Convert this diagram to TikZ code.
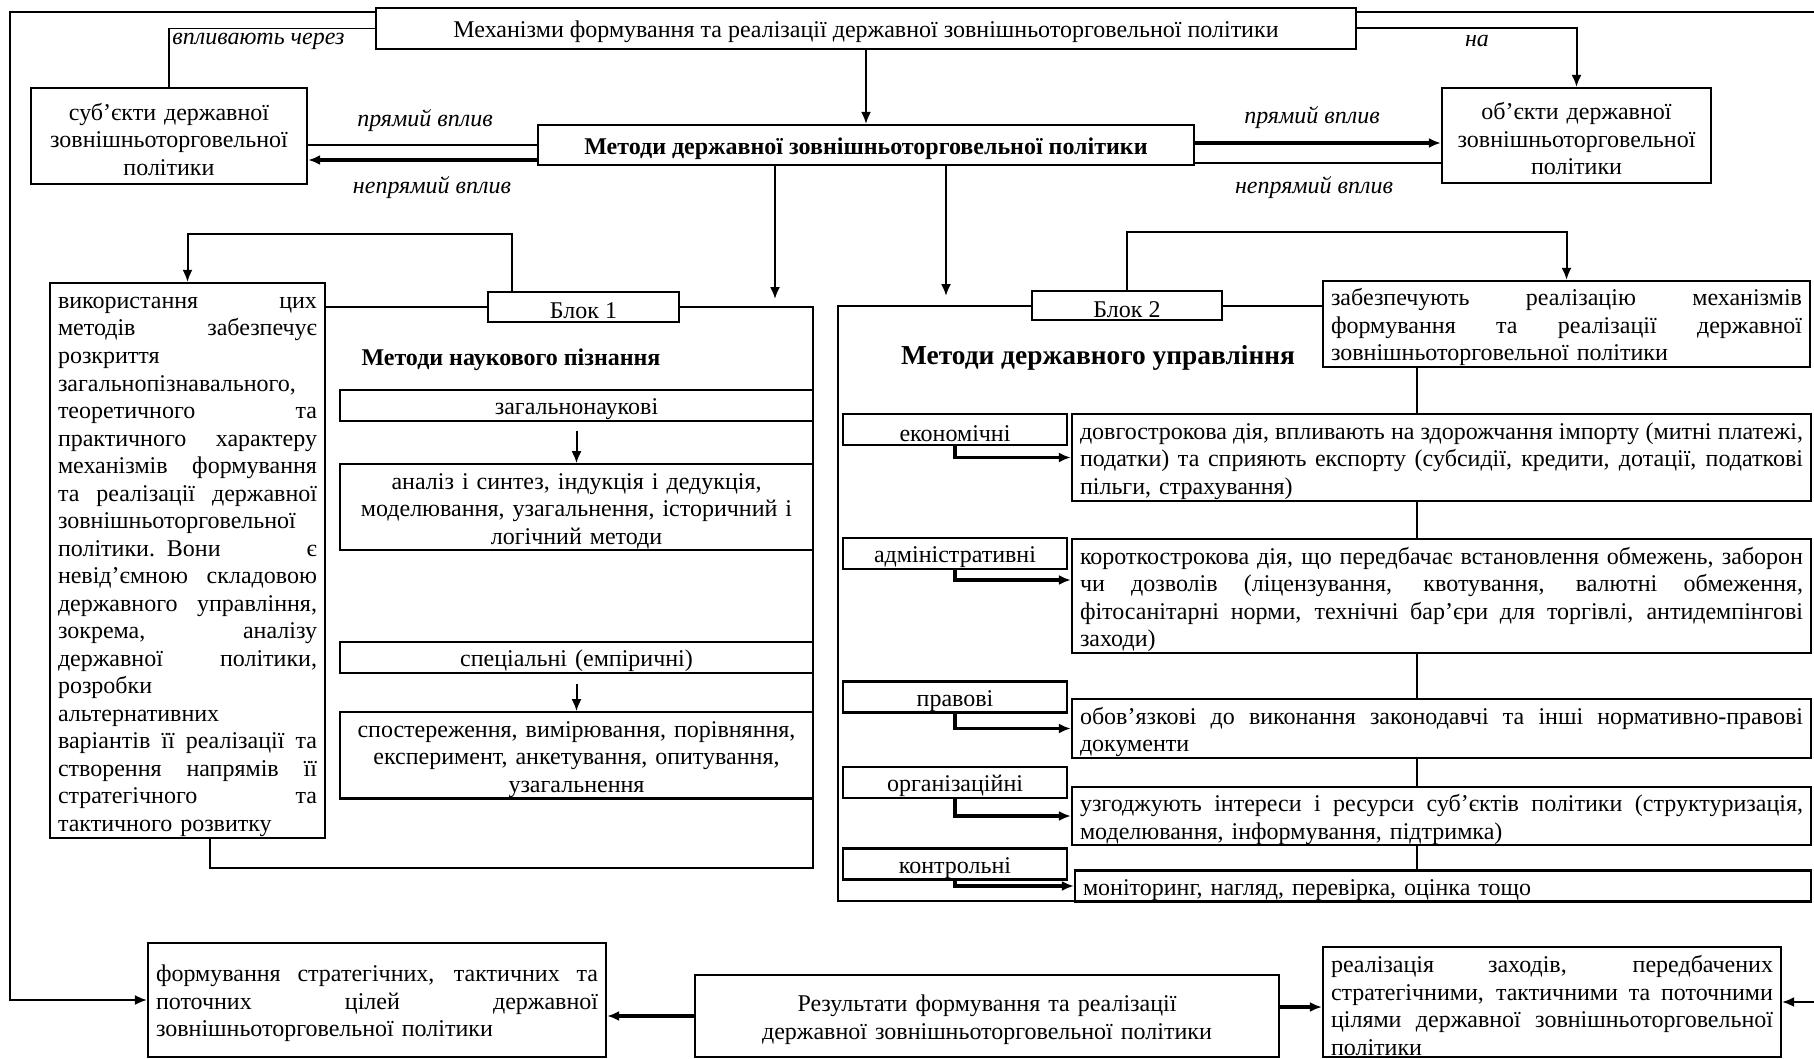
\documentclass[tikz,border=0pt]{standalone}
\usepackage{fontspec}
\setmainfont{Liberation Serif}
\usetikzlibrary{arrows.meta, positioning, calc}
\newcommand{\fsz}[2]{\fontsize{#1}{#2}\selectfont}
\newcommand{\jl}[1]{\leavevmode\hbox to \linewidth{\spaceskip=0.25em plus 1fil minus 0.08em\relax #1}\\}

\begin{document}
\begin{tikzpicture}[x=0.5pt, y=-0.5pt]
    \tikzset{
        box/.style={draw, line width=1.1pt, fill=white, inner xsep=3pt, inner ysep=0.5pt, text height=12pt, align=center, font=\fsz{12}{13.76}},
        jbox/.style={box, align=left, inner xsep=4pt},
        lbl/.style={inner sep=0pt, font=\fsz{12}{13.8}\itshape},
        head/.style={inner sep=0pt, font=\fsz{12}{14}\bfseries},
        ln/.style={line width=1pt},
        thinln/.style={line width=0.7pt},
        arr/.style={line width=1pt, -{Latex[length=6pt, width=5pt]}},
        tarr/.style={line width=1.7pt, -{Latex[length=6pt, width=5pt]}}
    }
    \useasboundingbox (0,0) rectangle (1814,1059);

    % Top level
    \node[box, minimum width=490pt, minimum height=20.5pt] (mech) at (866,28.5) {Механізми формування та реалізації державної зовнішньоторговельної політики};
    \node[box, text width=132pt, minimum height=48pt] (subj) at (169,136) {суб’єкти державної\\зовнішньоторговельної\\політики};
    \node[box, text width=128.5pt, minimum height=47.5pt] (obj) at (1576.5,135.5) {об’єкти державної\\зовнішньоторговельної\\політики};
    \node[box, minimum width=328pt, minimum height=20pt, font=\fsz{12}{13.8}\bfseries] (meth) at (866,145) {Методи державної зовнішньоторговельної політики};

    % Labels
    \node[lbl, anchor=west] (infl) at (172,41) {впливають через};
    \node[lbl] (onto) at (1477,41) {на};
    \node[lbl] (dirL) at (425,121) {прямий вплив};
    \node[lbl] (indL) at (432,188) {непрямий вплив};
    \node[lbl] (dirR) at (1312,118) {прямий вплив};
    \node[lbl] (indR) at (1314,188) {непрямий вплив};

    % Block 1
    \node[jbox, text width=129.5pt, minimum height=277.5pt] (usage) at (187.5,560.5) {\jl{використання цих}\jl{методів забезпечує}розкриття\\загальнопізнавального,\\\jl{теоретичного та}\jl{практичного характеру}\jl{механізмів формування}\jl{та реалізації державної}зовнішньоторговельної\\\jl{політики. Вони є}\jl{невід’ємною складовою}\jl{державного управління,}\jl{зокрема, аналізу}\jl{державної політики,}розробки\\альтернативних\\\jl{варіантів її реалізації та}\jl{створення напрямів її}\jl{стратегічного та}тактичного розвитку};
    \node[box, minimum width=95.5pt, minimum height=15pt] (blok1) at (583.5,307) {Блок 1};
    \node[head] (title1) at (511,360) {Методи наукового пізнання};
    \node[box, text width=230.5pt, minimum height=14.5pt] (gen) at (576.5,405.5) {загальнонаукові};
    \node[box, text width=230.5pt, minimum height=42pt, below=20.5pt of gen] (anal) {аналіз і синтез, індукція і дедукція,\\моделювання, узагальнення, історичний і\\логічний методи};
    \node[box, text width=230.5pt, minimum height=14.5pt] (spec) at (576.5,657.5) {спеціальні (емпіричні)};
    \node[box, text width=230.5pt, minimum height=43pt, below=18.5pt of spec] (obs) {спостереження, вимірювання, порівняння,\\експеримент, анкетування, опитування,\\узагальнення};

    % Block 2
    \node[box, minimum width=95pt, minimum height=14.5pt] (blok2) at (1127,305.5) {Блок 2};
    \node[jbox, text width=235.5pt, minimum height=43pt] (ensure) at (1566.5,324) {\jl{забезпечують реалізацію механізмів}\jl{формування та реалізації державної}зовнішньоторговельної політики};
    \node[head, font=\fsz{13.7}{16}\bfseries] (title2) at (1098,358) {Методи державного управління};
    \node[box, minimum width=112pt, minimum height=15.5pt] (econ) at (955,429.5) {економічні};
    \node[jbox, text width=361.5pt, minimum height=43.5pt] (econT) at (1441.5,457.5) {\jl{довгострокова дія, впливають на здорожчання імпорту (митні платежі,}\jl{податки) та сприяють експорту (субсидії, кредити, дотації, податкові}пільги, страхування)};
    \node[box, minimum width=112pt, minimum height=14.5pt] (adm) at (955,553.5) {адміністративні};
    \node[jbox, text width=361.5pt, minimum height=57pt] (admT) at (1441.5,596) {\jl{короткострокова дія, що передбачає встановлення обмежень, заборон}\jl{чи дозволів (ліцензування, квотування, валютні обмеження,}\jl{фітосанітарні норми, технічні бар’єри для торгівлі, антидемпінгові}заходи)};
    \node[box, minimum width=112pt, minimum height=15pt] (law) at (955,697) {правові};
    \node[jbox, text width=361.5pt, minimum height=28.5pt] (lawT) at (1441.5,728.5) {\jl{обов’язкові до виконання законодавчі та інші нормативно-правові}документи};
    \node[box, minimum width=112pt, minimum height=15.5pt] (org) at (955,782.5) {організаційні};
    \node[jbox, text width=361.5pt, minimum height=29pt] (orgT) at (1441.5,816) {\jl{узгоджують інтереси і ресурси суб’єктів політики (структуризація,}моделювання, інформування, підтримка)};
    \node[box, minimum width=112pt, minimum height=15pt] (ctrl) at (955,864) {контрольні};
    \node[jbox, text width=360pt, minimum height=14pt] (ctrlT) at (1443,886) {моніторинг, нагляд, перевірка, оцінка тощо};

    % Results
    \node[jbox, text width=221pt, minimum height=57pt] (goals) at (377,1000) {\jl{формування стратегічних, тактичних та}\jl{поточних цілей державної}зовнішньоторговельної політики};
    \node[box, text width=286pt, minimum height=41pt] (res) at (987,1016) {Результати формування та реалізації\\державної зовнішньоторговельної політики};
    \node[jbox, text width=221pt, minimum height=55pt] (real) at (1552,1002) {\jl{реалізація заходів, передбачених}\jl{стратегічними, тактичними та поточними}\jl{цілями державної зовнішньоторговельної}політики};

    % Helper points
    \coordinate (lx) at (10,0);
    \coordinate (rx) at (1817,0);
    \coordinate (vx) at (1417,0);
    \coordinate (f1) at (813,868);
    \coordinate (f2) at (838,901);
    \coordinate (d1) at (775,299);
    \coordinate (d2) at (946,296);
    \coordinate (mtl) at ([yshift=-2.5pt]mech.north west);
    \coordinate (mtr) at ([yshift=-2.5pt]mech.north east);
    \coordinate (mL2) at ([yshift=-7.5pt]meth.west);
    \coordinate (mR1) at ([yshift=1pt]meth.east);
    \coordinate (mR2) at ([yshift=-9pt]meth.east);
    \coordinate (u1) at ([xshift=11.25pt]usage.south);
    \coordinate (aT) at ([yshift=8pt]admT.west);
    \coordinate (rE) at ([yshift=4.5pt]res.east);

    % Outer loops
    \draw[arr] (mtl) -- (mtl -| lx) |- (goals.west);
    \draw[arr] (mtr) -- (mtr -| rx) |- (real.east);
    \draw[thinln] (subj.north) |- (mech.west);
    \draw[arr] (mech.east) -| (obj.north);
    \draw[arr] (mech) -- (meth);

    % Influence lines
    \draw[thinln] (meth.west) -- (meth.west -| subj.east);
    \draw[tarr] (mL2) -- (mL2 -| subj.east);
    \draw[tarr] (mR1) -- (mR1 -| obj.west);
    \draw[thinln] (mR2) -- (mR2 -| obj.west);
    \draw[arr] (meth.south -| d1) -- (d1);
    \draw[arr] (meth.south -| d2) -- (d2);

    % Block frames
    \draw[arr] ([xshift=-36pt]blok1.north) -- ++(0,-57) -| (usage.north);
    \draw[ln] (usage.east |- blok1.west) -- (blok1.west);
    \draw[ln] (blok1.east) -- (blok1.east -| f1) -- (f1) -- (f1 -| u1) -- (u1);
    \draw[arr] ([yshift=-4.5pt]gen.south) -- (anal.north);
    \draw[arr] ([yshift=-5pt]spec.south) -- (obs.north);
    \draw[arr] (blok2.north) -- ++(0,-58) -| (ensure.north);
    \draw[ln] (blok2.west) -- (blok2.west -| f2) -- (f2) -- (f2 -| vx);
    \draw[ln] (blok2.east) -- (blok2.east -| ensure.west);

    % Spine of block 2
    \draw[ln] (ensure.south -| vx) -- (econT.north -| vx);
    \draw[ln] (econT.south -| vx) -- (admT.north -| vx);
    \draw[ln] (admT.south -| vx) -- (lawT.north -| vx);
    \draw[ln] (lawT.south -| vx) -- (orgT.north -| vx);
    \draw[ln] (orgT.south -| vx) -- (ctrlT.north -| vx);

    % Method kinds
    \draw[tarr] (econ.south) |- (econT.west);
    \draw[tarr] (adm.south) |- (aT);
    \draw[tarr] (law.south) |- (lawT.west);
    \draw[tarr] (org.south) |- (orgT.west);
    \draw[tarr] (ctrl.south) |- (ctrlT.west);

    % Results
    \draw[tarr] (res.west) -- (res.west -| goals.east);
    \draw[tarr] (rE) -- (rE -| real.west);
\end{tikzpicture}
\end{document}
